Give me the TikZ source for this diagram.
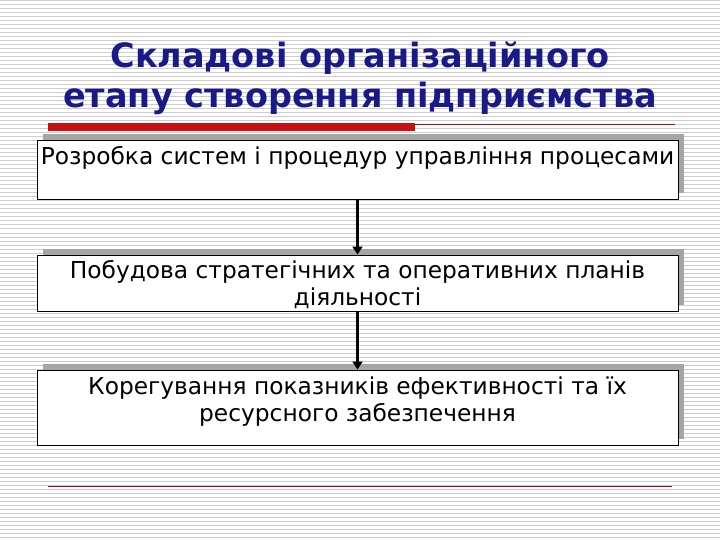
\documentclass[tikz,border=0pt]{standalone}
\usepackage{fontspec}
\setmainfont{DejaVu Sans}
\usetikzlibrary{arrows.meta}
\definecolor{titleblue}{RGB}{25,25,135}
\definecolor{barred}{RGB}{200,16,16}
\definecolor{linered}{RGB}{140,20,20}
\definecolor{stripegray}{RGB}{205,205,205}
\definecolor{shadowgray}{RGB}{165,165,165}
\tikzset{
  stripe/.style={draw=stripegray, line width=1pt},
  titletext/.style={font=\fontsize{33.5}{40}\selectfont\bfseries, text=titleblue, inner sep=0pt},
  stagebox/.style={draw=black, fill=white, line width=0.9pt, minimum width=641pt, inner sep=0pt},
  boxshadow/.style={fill=shadowgray},
  stagetext/.style={font=\fontsize{23.3}{27}\selectfont, align=center, inner sep=0pt, anchor=north},
  flow/.style={line width=3.8pt, -{Triangle[width=10pt,length=8pt]}}
}
\begin{document}
\begin{tikzpicture}[x=1pt,y=-1pt]
\useasboundingbox (0,0) rectangle (720,540);
\fill[white] (0,0) rectangle (720,540);
\foreach \y in {1,5,...,537} \draw[stripe] (0,\y) -- (720,\y);
% title
\node[titletext] (t1) at (360,58.5) {Складові організаційного};
\node[titletext] (t2) at (360,98) {етапу створення підприємства};
% decorative bars
\draw[linered, line width=1pt] (415,124.5) -- (675,124.5);
\fill[barred] (48,123) rectangle (415,131);
% shadows
\fill[boxshadow] (43,134) rectangle (684,193);
\fill[boxshadow] (43,249) rectangle (684,305);
\fill[boxshadow] (43,364) rectangle (684,439);
% boxes
\node[stagebox, minimum height=59pt] (b1) at (357.5,169.5) {};
\node[stagebox, minimum height=56pt] (b2) at (357.5,283) {};
\node[stagebox, minimum height=75pt] (b3) at (357.5,407.5) {};
\node[stagetext] (s1) at ([yshift=-6.5pt]b1.north) {Розробка систем і процедур управління процесами};
\node[stagetext] (s2) at ([yshift=-6pt]b2.north) {Побудова стратегічних та оперативних планів\\діяльності};
\node[stagetext] (s3) at ([yshift=-7pt]b3.north) {Корегування показників ефективності та їх\\ресурсного забезпечення};
% arrows
\draw[flow] (b1.south) -- (b2.north);
\draw[flow] (b2.south) -- (b3.north);
% bottom line
\draw[linered, line width=1pt] (48,486.5) -- (672,486.5);
\end{tikzpicture}
\end{document}
